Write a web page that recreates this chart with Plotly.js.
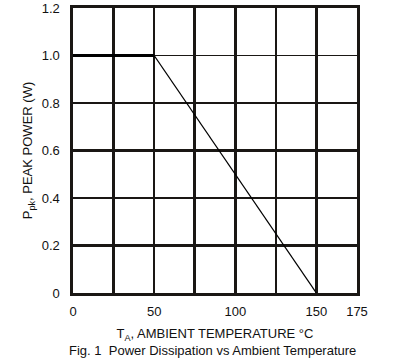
<!DOCTYPE html>
<html>
<head>
<meta charset="utf-8">
<script src="https://cdn.plot.ly/plotly-3.0.1.min.js"></script>
<style>html,body{margin:0;padding:0;background:#fff;}#chart{width:398px;height:358px;}</style>
</head>
<body>
<div id="chart"></div>
<script>
// Data
const flatTemp = [0, 50];
const flatPower = [1.0, 1.0];
const derateTemp = [50, 150];
const deratePower = [1.0, 0];
const xTickVals = [0, 25, 50, 75, 100, 125, 150, 175];
const xTickText = ['0', '', '50', '', '100', '', '150', '175'];
const yTickVals = [0, 0.2, 0.4, 0.6, 0.8, 1.0, 1.2];
const yTickText = ['0', '0.2', '0.4', '0.6', '0.8', '1.0', '1.2'];
const yThickGrid = [0, 0.2, 0.4, 0.6, 0.8, 1.2];

const ink = '#1a1714';
const fam = 'Liberation Sans, Arial, sans-serif';
const font = {family: fam, size: 13, color: '#111'};

const traces = [
  {x: [0], y: [0], yaxis: 'y2', mode: 'markers', marker: {opacity: 0}, hoverinfo: 'none', showlegend: false},
  {x: flatTemp, y: flatPower, mode: 'lines', line: {color: '#000', width: 3.2}, hoverinfo: 'none', showlegend: false},
  {x: derateTemp, y: deratePower, mode: 'lines', line: {color: '#000', width: 1.3}, hoverinfo: 'none', showlegend: false}
];

const layout = {
  width: 398, height: 358,
  margin: {l: 73, r: 41, t: 8, b: 65},
  paper_bgcolor: '#fff', plot_bgcolor: '#fff',
  font: font,
  showlegend: false,
  xaxis: {
    range: [0, 175], tickmode: 'array', tickvals: xTickVals, ticktext: xTickText,
    showgrid: true, gridcolor: ink, gridwidth: 2.6,
    showline: true, linecolor: ink, linewidth: 2.6, mirror: true,
    zeroline: false, ticks: '', ticklabelstandoff: 5,
    title: {text: 'T<sub>A</sub>, AMBIENT TEMPERATURE °C', font: {family: fam, size: 13, color: '#111'}, standoff: 11}
  },
  yaxis: {
    range: [0, 1.2], tickmode: 'array', tickvals: yTickVals, ticktext: yTickText,
    showgrid: true, gridcolor: ink, gridwidth: 1.2,
    showline: true, linecolor: ink, linewidth: 2.6, mirror: true,
    zeroline: false, ticks: '', ticklabelstandoff: 8,
    title: {text: 'P<sub>pk</sub>, PEAK POWER (W)', font: {family: fam, size: 13, color: '#111'}, standoff: 6}
  },
  yaxis2: {
    range: [0, 1.2], overlaying: 'y', tickmode: 'array', tickvals: yThickGrid,
    showgrid: true, gridcolor: ink, gridwidth: 2.6,
    showticklabels: false, showline: false, zeroline: false, ticks: ''
  },
  annotations: [{
    text: 'Fig. 1  Power Dissipation vs Ambient Temperature',
    xref: 'paper', yref: 'paper', x: 0.49, y: -0.2, xanchor: 'center', yanchor: 'middle',
    showarrow: false, font: {family: fam, size: 13, color: '#111'}
  }]
};

Plotly.newPlot('chart', traces, layout, {displayModeBar: false, staticPlot: true});
</script>
</body>
</html>
